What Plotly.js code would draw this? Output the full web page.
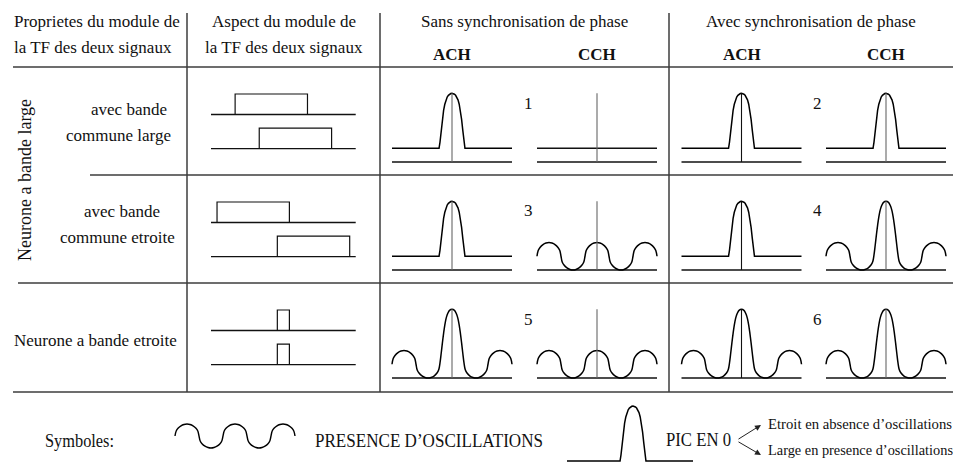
<!DOCTYPE html>
<html>
<head>
<meta charset="utf-8">
<script src="https://cdn.plot.ly/plotly-3.0.1.min.js"></script>
<style>
  html, body { margin: 0; padding: 0; background: #fff; }
  #chart { width: 953px; height: 466px; }
</style>
</head>
<body>
<div id="chart"></div>
<script>
// ---------- content ----------
const headerLine1 = ['Proprietes du module de', 'Aspect du module de',
                     'Sans synchronisation de phase', 'Avec synchronisation de phase'];
const headerLine2 = ['la TF des deux signaux', 'la TF des deux signaux'];
const histLabels = ['ACH', 'CCH', 'ACH', 'CCH'];
const groupLabel = 'Neurone a bande large';
const subRowLabels = [['avec bande', 'commune large'], ['avec bande', 'commune etroite']];
const narrowLabel = 'Neurone a bande etroite';
const caseNumbers = [['1', '2'], ['3', '4'], ['5', '6']];
const legendTexts = ['Symboles:', 'PRESENCE D\u2019OSCILLATIONS', 'PIC EN 0'];
const peakNotes = ['Etroit en absence d\u2019oscillations', 'Large en presence d\u2019oscillations'];

// Spectrum bands of the two signals per row (frequency scale 0..12)
const freqSpan = [0, 12];
const bandLow  = [[2, 4], [0.5, 5.5], [5.5, 5.5]];
const bandHigh = [[8, 10], [6.5, 11.5], [6.5, 6.5]];

// Correlogram kind per row: ACH / CCH without sync, ACH / CCH with sync
const cellShape = [
  ['peak', 'flat', 'peak', 'peak'],
  ['peak', 'wave', 'peak', 'wavePeak'],
  ['wavePeak', 'wave', 'wavePeak', 'wavePeak']
];
const lagSpan = [-5, 5];          // lag window of a correlogram (bins)
const meanLevel = 1;              // flat level of a correlogram without oscillation
const zeroLagTop = 5;

// Half profiles (lag >= 0) of the drawn curves
const peakHalfLag = [0, 0.1, 0.2, 0.3, 0.4, 0.5, 0.6, 0.7, 0.8, 0.9, 1.0, 1.08];
const peakHalfVal = [5, 4.98, 4.93, 4.85, 4.72, 4.52, 4.2, 3.75, 3.1, 2.3, 1.45, 1];
const waveHalfLag = [0, 0.25, 0.5, 0.75, 0.9, 1, 1.1, 1.25, 1.5, 1.75, 2,
                     2.25, 2.5, 2.75, 2.9, 3, 3.1, 3.25, 3.5, 3.75, 4, 4.25, 4.5, 4.75, 4.9, 5];
const waveHalfVal = [2, 1.96, 1.85, 1.64, 1.42, 1, 0.58, 0.36, 0.15, 0.04, 0,
                     0.04, 0.15, 0.36, 0.58, 1, 1.42, 1.64, 1.85, 1.96, 2, 1.96, 1.85, 1.64, 1.42, 1];
const wavePeakHalfLag = [0, 0.1, 0.2, 0.3, 0.4, 0.5, 0.6, 0.7, 0.8, 0.9, 1.0, 1.1, 1.25, 1.5, 1.75, 2,
                         2.25, 2.5, 2.75, 2.9, 3, 3.1, 3.25, 3.5, 3.75, 4, 4.25, 4.5, 4.75, 4.9, 5];
const wavePeakHalfVal = [5, 4.98, 4.92, 4.8, 4.6, 4.3, 3.85, 3.25, 2.55, 1.8, 1.1, 0.62, 0.36, 0.14, 0.04, 0,
                         0.04, 0.15, 0.36, 0.58, 1, 1.42, 1.64, 1.85, 1.96, 2, 1.96, 1.85, 1.64, 1.42, 1];
const legendPeakSpan = [-5.5, 5];

// ---------- geometry (pixels) ----------
const W = 953, H = 466;
const ruleColX = [187, 380, 669];
const ruleRowY = [67, 175, 283, 392];
const ruleRowStart = [13, 90, 18, 13];
const tableTop = 13;
const cellCenterX = [452, 597, 741.5, 886];
const numberX = [528, 817];
const pxPerLag = 12, pxPerLevel = 13.75, baseOffset = 95;
const specX0 = 211, pxPerFreq = 12.06, specBaseOffset = [47.5, 81.7], pxPerBand = 20.5;

const INK = '#111';
const RULE = '#3c3c3c';
const FONT = '"Liberation Serif", "Times New Roman", serif';

const traces = [];
const layout = {
  width: W, height: H,
  margin: {l: 0, r: 0, t: 0, b: 0, pad: 0},
  paper_bgcolor: '#ffffff', plot_bgcolor: 'rgba(0,0,0,0)',
  showlegend: false, hovermode: false,
  shapes: [], annotations: []
};

const clamp = v => Math.max(0, Math.min(1, v));
let nAx = 0;
// One small subplot; (ox, oy) is the pixel of data point (0, 0)
function panel(ox, oy, sx, sy, xr, yr) {
  nAx += 1;
  const s = nAx === 1 ? '' : String(nAx);
  layout['xaxis' + s] = {
    domain: [clamp((ox + xr[0] * sx) / W), clamp((ox + xr[1] * sx) / W)],
    range: xr, autorange: false, visible: false, fixedrange: true, anchor: 'y' + s
  };
  layout['yaxis' + s] = {
    domain: [clamp(1 - (oy - yr[0] * sy) / H), clamp(1 - (oy - yr[1] * sy) / H)],
    range: yr, autorange: false, visible: false, fixedrange: true, anchor: 'x' + s
  };
  return {xaxis: 'x' + s, yaxis: 'y' + s};
}
function addLine(ax, x, y, color, width, shape) {
  traces.push({
    type: 'scatter', mode: 'lines', x: x, y: y,
    xaxis: ax.xaxis, yaxis: ax.yaxis, hoverinfo: 'skip',
    line: {color: color, width: width, shape: shape || 'linear', smoothing: 1}
  });
}
function mirror(halfLag, halfVal) {
  const x = [], y = [];
  for (let i = halfLag.length - 1; i > 0; i--) { x.push(-halfLag[i]); y.push(halfVal[i]); }
  for (let i = 0; i < halfLag.length; i++) { x.push(halfLag[i]); y.push(halfVal[i]); }
  return {x, y};
}
function peakWithFlats(span) {
  const m = mirror(peakHalfLag, peakHalfVal);
  return {x: [span[0]].concat(m.x, [span[1]]), y: [meanLevel].concat(m.y, [meanLevel])};
}

// ---------- spectra (column 2) ----------
for (let r = 0; r < 3; r++) {
  for (let k = 0; k < 2; k++) {
    const ax = panel(specX0, ruleRowY[r] + specBaseOffset[k], pxPerFreq, pxPerBand, [-0.5, 12.5], [-0.3, 1.3]);
    addLine(ax, freqSpan, [0, 0], INK, 1.3);
    const a = bandLow[r][k], b = bandHigh[r][k];
    addLine(ax, [a, a, b, b], [0, 1, 1, 0], INK, 1.2);
  }
}

// ---------- correlograms (columns 3 and 4) ----------
const zeroLagColor = ['#666', '#666', '#111', '#666'];
for (let r = 0; r < 3; r++) {
  for (let c = 0; c < 4; c++) {
    const ax = panel(cellCenterX[c], ruleRowY[r] + baseOffset, pxPerLag, pxPerLevel, [-5.5, 5.5], [-0.5, 5.5]);
    addLine(ax, lagSpan, [0, 0], INK, 1.4);
    const kind = cellShape[r][c];
    if (kind === 'flat') {
      addLine(ax, lagSpan, [meanLevel, meanLevel], INK, 1.5);
    } else if (kind === 'peak') {
      const p = peakWithFlats(lagSpan);
      addLine(ax, p.x, p.y, '#000', 1.5);
    } else if (kind === 'wave') {
      const p = mirror(waveHalfLag, waveHalfVal);
      addLine(ax, p.x, p.y, '#000', 1.5, 'spline');
    } else {
      const p = mirror(wavePeakHalfLag, wavePeakHalfVal);
      addLine(ax, p.x, p.y, '#000', 1.5, 'spline');
    }
    addLine(ax, [0, 0], [0, zeroLagTop], zeroLagColor[c], 1.1);
  }
}

// ---------- legend symbols ----------
{
  const ax = panel(235, 448, pxPerLag, 12, [-5.5, 5.5], [-0.4, 2.4]);
  const p = mirror(waveHalfLag, waveHalfVal);
  addLine(ax, p.x, p.y, '#000', 1.4, 'spline');
}
{
  const ax = panel(633, 461 + pxPerLevel, pxPerLag, pxPerLevel, [-6, 5.5], [0.7, 5.3]);
  const p = peakWithFlats(legendPeakSpan);
  addLine(ax, p.x, p.y, '#000', 1.5);
}

// ---------- table rules ----------
const X = v => v / W, Y = v => 1 - v / H;
ruleRowY.forEach((y, i) => layout.shapes.push({
  type: 'line', xref: 'paper', yref: 'paper',
  x0: X(ruleRowStart[i]), x1: 1, y0: Y(y), y1: Y(y),
  line: {color: RULE, width: 1.5}
}));
ruleColX.forEach(x => layout.shapes.push({
  type: 'line', xref: 'paper', yref: 'paper',
  x0: X(x), x1: X(x), y0: Y(tableTop), y1: Y(ruleRowY[3]),
  line: {color: RULE, width: 1.5}
}));

// ---------- text ----------
function txt(s, x, y, opts) {
  const o = opts || {};
  layout.annotations.push({
    text: s, xref: 'paper', yref: 'paper', x: X(x), y: Y(y),
    xanchor: o.xa || 'center', yanchor: 'middle', align: o.xa || 'center',
    showarrow: false, textangle: o.angle || 0,
    font: {family: FONT, size: o.size || 17, color: INK}
  });
}
const headerCenterX = [12, 283.5, 524.5, 811];
txt(headerLine1[0], headerCenterX[0], 21.5, {xa: 'left'});
txt(headerLine2[0], headerCenterX[0], 48, {xa: 'left'});
txt(headerLine1[1], headerCenterX[1], 21.5);
txt(headerLine2[1], headerCenterX[1], 48);
txt(headerLine1[2], headerCenterX[2], 21.5);
txt(headerLine1[3], headerCenterX[3], 21.5);
histLabels.forEach((s, c) => txt('<b>' + s + '</b>', cellCenterX[c], 54));

txt(groupLabel, 25, 180, {angle: -90, size: 18});
const subLabelX = [[128.5, 118.5], [122, 117]];
const subLabelY = [[109.2, 135.6], [211.6, 237.6]];
subRowLabels.forEach((pair, r) => pair.forEach((s, k) => txt(s, subLabelX[r][k], subLabelY[r][k])));
txt(narrowLabel, 12, 340, {xa: 'left'});

caseNumbers.forEach((pair, r) => pair.forEach((s, k) => txt(s, numberX[k], ruleRowY[r] + 36)));

// legend line: a tall, narrow face set to a fixed run length
const squeezed = {};
function legendTxt(s, x, y, size, runLength) {
  txt(s, x, y, {xa: 'left', size: size});
  squeezed[s] = runLength;
}
legendTxt(legendTexts[0], 43, 440.5, 19.5, 69);
legendTxt(legendTexts[1], 313, 440.5, 19.5, 228);
legendTxt(legendTexts[2], 664, 439.5, 19.5, 65);
legendTxt(peakNotes[0], 766, 424, 14, 184);
legendTxt(peakNotes[1], 766, 450.5, 14, 185);

// the "<" made of two arrows next to PIC EN 0
[[761, 425, -24, 15], [761, 455, -24, -14]].forEach(a => layout.annotations.push({
  text: '', xref: 'paper', yref: 'paper', x: X(a[0]), y: Y(a[1]),
  ax: a[2], ay: a[3], showarrow: true, arrowhead: 2, arrowsize: 1.2,
  arrowwidth: 1, arrowcolor: '#222', standoff: 0, startstandoff: 0
}));

Plotly.newPlot('chart', traces, layout, {staticPlot: true, displayModeBar: false}).then(gd => {
  gd.querySelectorAll('text.annotation-text').forEach(node => {
    const run = squeezed[node.textContent];
    if (run) {
      node.setAttribute('textLength', run);
      node.setAttribute('lengthAdjust', 'spacingAndGlyphs');
    }
  });
});
</script>
</body>
</html>
